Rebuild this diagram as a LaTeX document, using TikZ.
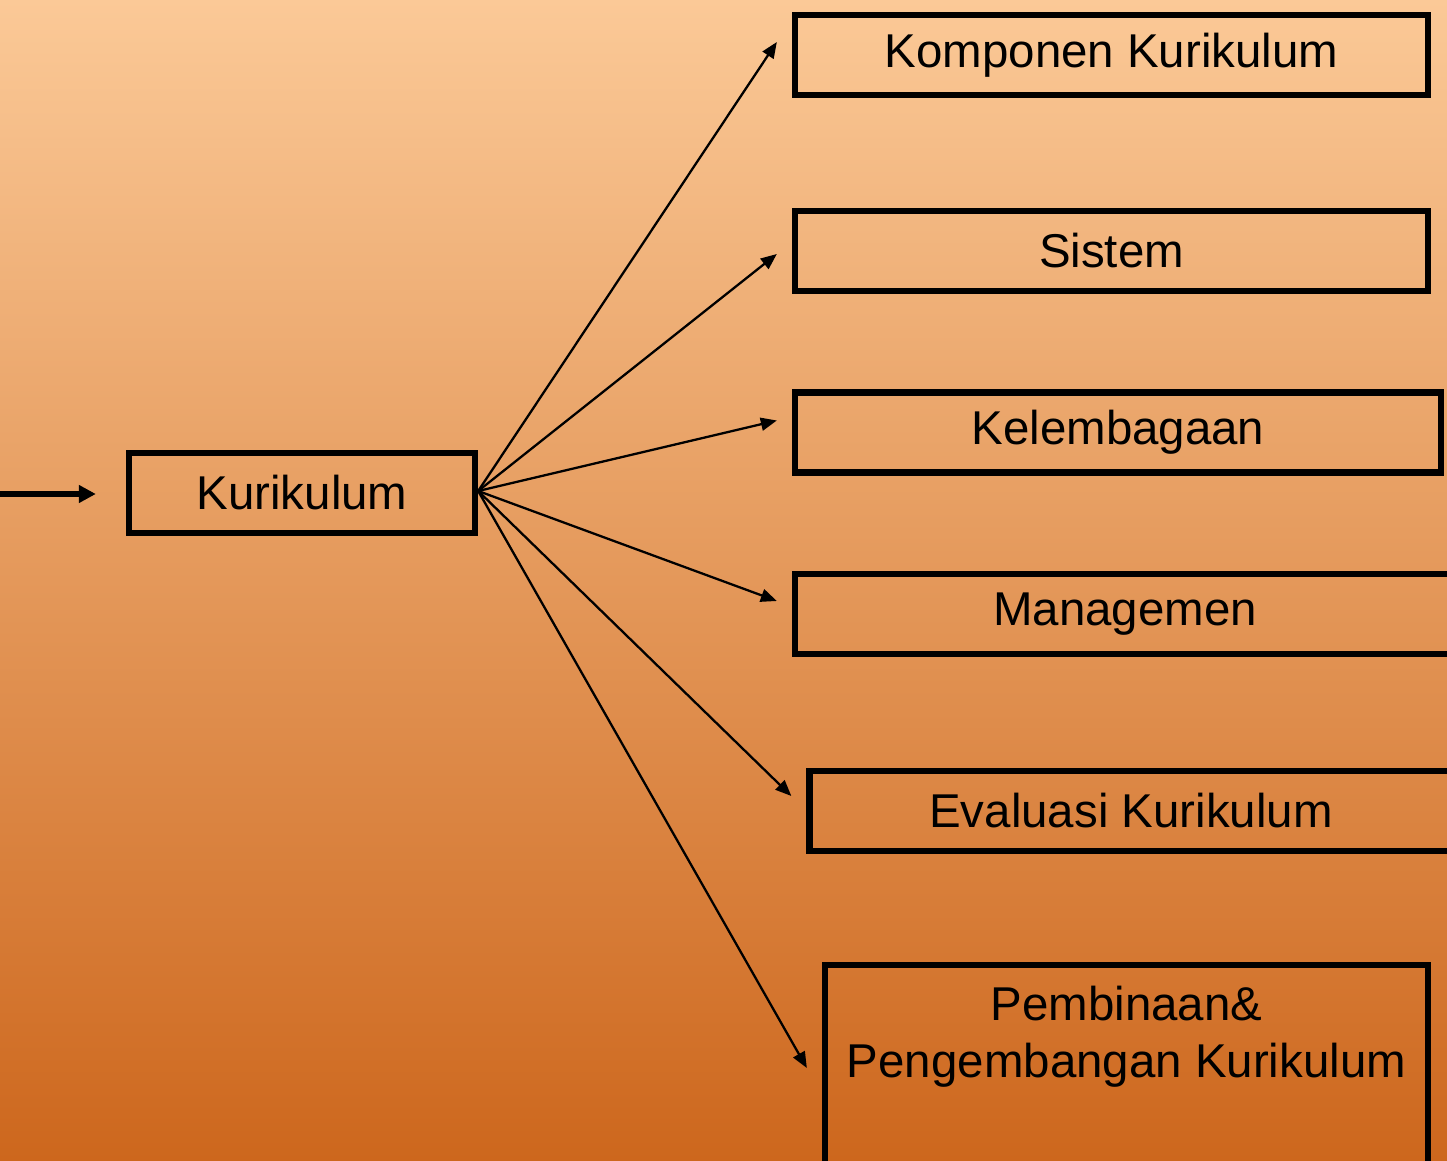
\documentclass[tikz,border=0pt]{standalone}
\usepackage{fontspec}
\setmainfont{Liberation Sans}
\usetikzlibrary{arrows.meta,positioning,calc}
\definecolor{bgTop}{RGB}{251,201,151}
\definecolor{bgBottom}{RGB}{205,103,29}

\begin{document}
\begin{tikzpicture}[box/.style={draw=black,line width=1.8pt,minimum height=0.8cm,inner sep=0pt,font=\fontsize{13.5}{16.2}\selectfont},
    link/.style={-{Triangle[length=1.6mm,width=1.3mm]},line width=0.65pt}]
        \useasboundingbox (0,0) rectangle (14.47,11.6);
        \shade[top color=bgTop,bottom color=bgBottom] (0,0) rectangle (14.47,11.6);
        \clip (0,0) rectangle (14.47,11.6);
        \node[box,minimum width=3.46cm] (kur) at (3.02,6.67) {Kurikulum};
        \node[box,minimum width=6.33cm] (komp) at (11.115,11.05) {Komponen Kurikulum};
        \node[box,minimum width=6.33cm] (sistem) at (11.115,9.09) {Sistem};
        \node[box,minimum width=6.46cm] (lembaga) at (11.18,7.275) {Kelembagaan};
        \node[box,minimum width=6.60cm] (manage) at (11.25,5.46) {Managemen};
        \node[box,minimum width=6.43cm] (eval) at (11.31,3.49) {Evaluasi Kurikulum};
        \node[box,minimum width=6.03cm,minimum height=2.08cm,align=center,text depth=0.75cm] (bina) at (11.265,0.91)
          {Pembinaan\&\\Pengembangan Kurikulum};
        % ujung panah
        \coordinate (kompIn) at ($(komp.west)+(-0.15,0.13)$);
        \coordinate (sistemIn) at ($(sistem.west)+(-0.15,-0.03)$);
        \coordinate (lembagaIn) at ($(lembaga.west)+(-0.15,0.12)$);
        \coordinate (manageIn) at ($(manage.west)+(-0.15,0.13)$);
        \coordinate (evalIn) at ($(eval.west)+(-0.15,0.15)$);
        \coordinate (binaIn) at ($(bina.west)+(-0.15,0.01)$);
        \coordinate (masuk) at (0,6.66);
        \draw[-{Triangle[length=1.7mm,width=1.7mm]},line width=1.7pt] (masuk) -- ($(kur.west)+(-0.3,-0.01)$);
        \draw[link] ($(kur.east)+(0,0.02)$) -- (kompIn);
        \draw[link] ($(kur.east)+(0,0.02)$) -- (sistemIn);
        \draw[link] ($(kur.east)+(0,0.02)$) -- (lembagaIn);
        \draw[link] ($(kur.east)+(0,0.02)$) -- (manageIn);
        \draw[link] ($(kur.east)+(0,0.02)$) -- (evalIn);
        \draw[link] ($(kur.east)+(0,0.02)$) -- (binaIn);
      \end{tikzpicture}
\end{document}
